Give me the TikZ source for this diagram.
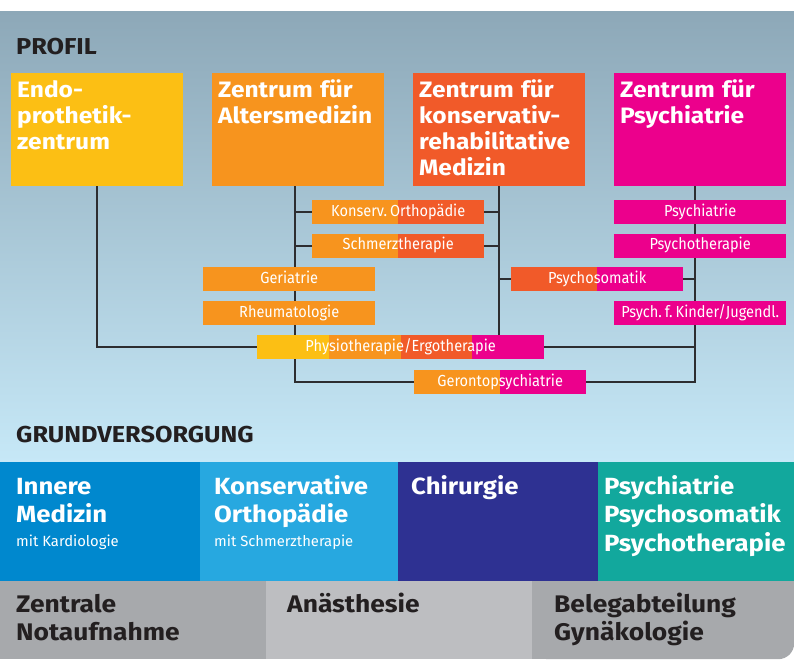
\documentclass[tikz,border=0pt]{standalone}
\usepackage{fontspec}
\setmainfont{Fira Sans}
\newfontfamily\titlefont[FakeStretch=1.1]{Fira Sans}
\newfontfamily\condfont[FakeStretch=0.91, WordSpace=0.8]{Fira Sans}
\usetikzlibrary{positioning}
\usetikzlibrary{calc}
\usetikzlibrary{backgrounds}
\definecolor{cyellow}{RGB}{252,191,20}
\definecolor{corange}{RGB}{247,148,30}
\definecolor{cred}{RGB}{241,90,41}
\definecolor{cmagenta}{RGB}{236,0,140}
\definecolor{cblue}{RGB}{0,136,206}
\definecolor{clightblue}{RGB}{39,168,224}
\definecolor{cnavy}{RGB}{46,49,146}
\definecolor{cteal}{RGB}{18,168,157}
\definecolor{cgray}{RGB}{167,169,172}
\definecolor{clightgray}{RGB}{189,190,193}
\definecolor{ctext}{RGB}{35,31,32}
\definecolor{cline}{RGB}{45,45,48}
\definecolor{cbgtop}{RGB}{141,168,184}
\definecolor{cbgbot}{RGB}{198,232,247}
\tikzset{
    bignode/.style = {anchor=north west, inner xsep=6pt, inner ysep=8pt, text width=160pt, text height=16pt, text depth=81pt, align=left, font=\titlefont\fontsize{22.3}{26}\selectfont\bfseries, text=white},
    smallnode/.style = {anchor=north west, inner sep=0pt, minimum width=172pt, minimum height=24pt, text height=12pt, text depth=4pt, font=\condfont\fontsize{16}{18}\selectfont\frenchspacing, text=white},
    splitnode/.style 2 args = {smallnode, fill=#1, path picture={\fill[#2] (path picture bounding box.south) rectangle (path picture bounding box.north east);}},
    gvnode/.style = {anchor=north west, inner ysep=0pt, text height=32.8pt, text depth=86.7pt, align=left, font=\titlefont\fontsize{23.4}{28.4}\selectfont\bfseries, text=white},
    basenode/.style = {anchor=north west, inner ysep=0pt, text height=31.5pt, text depth=46.5pt, align=left, font=\titlefont\fontsize{24}{28}\selectfont\bfseries, text=ctext},
    headnode/.style = {anchor=base west, inner sep=0pt, font=\titlefont\fontsize{23}{26}\selectfont\bfseries, text=ctext},
    edgen/.style = {-, line width=2pt, cline},
}
\newcommand{\sublabel}[1]{{\normalfont\fontsize{14.8}{16}\selectfont\spaceskip=0pt\xspaceskip=0pt #1}}

\begin{document}
\begin{tikzpicture}[x=1pt, y=-1pt]
\useasboundingbox (0,0) rectangle (794,659);
\node[headnode] at (16,54) (profil) {PROFIL};
\node[bignode, fill=cyellow] at (11,73) (endo) {Endo-\\prothetik-\\zentrum};
\node[bignode, fill=corange] at (212,73) (alters) {Zentrum für\\Altersmedizin};
\node[bignode, fill=cred] at (413,73) (konserv) {Zentrum für\\konservativ-\\rehabilitative\\Medizin};
\node[bignode, fill=cmagenta] at (614,73) (psych) {Zentrum für\\Psychiatrie};
%
\node[splitnode={corange}{cred}] at (312,200) (orthopaedie) {Konserv. Orthopädie};
\node[splitnode={corange}{cred}] at (312,233.5) (schmerz) {Schmerztherapie};
\node[smallnode, fill=corange] at (203,267) (geriatrie) {Geriatrie};
\node[smallnode, fill=corange] at (203,301) (rheuma) {Rheumatologie};
\node[splitnode={cred}{cmagenta}] at (511,267) (psychosom) {Psychosomatik};
\node[smallnode, fill=cmagenta] at (614,200) (psychiatrie) {Psychiatrie};
\node[smallnode, fill=cmagenta] at (614,233.5) (psychother) {Psychotherapie};
\node[smallnode, fill=cmagenta] at (614,301) (kinder) {Psych. f. Kinder/Jugendl.};
\node[smallnode, minimum width=287pt, fill=cyellow, path picture={
    \fill[corange] ($(path picture bounding box.south west)!0.25!(path picture bounding box.south east)$) rectangle (path picture bounding box.north east);
    \fill[cred] (path picture bounding box.south) rectangle (path picture bounding box.north east);
    \fill[cmagenta] ($(path picture bounding box.south west)!0.75!(path picture bounding box.south east)$) rectangle (path picture bounding box.north east);
}] at (257,335) (physio) {Physiotherapie/Ergotherapie};
\node[splitnode={corange}{cmagenta}] at (414,370) (geronto) {Gerontopsychiatrie};
%
\node[headnode] at (16,442) (grund) {GRUNDVERSORGUNG};
\node[gvnode, fill=cblue, inner xsep=16pt, text width=168pt] at (0,461.5) (innere) {Innere\\Medizin\\[-4.4pt]\sublabel{mit Kardiologie}};
\node[gvnode, fill=clightblue, inner xsep=14pt, text width=170pt] at (200,461.5) (orthogv) {Konservative\\Orthopädie\\[-4.4pt]\sublabel{mit Schmerztherapie}};
\node[gvnode, fill=cnavy, inner xsep=13pt, text width=174pt] at (398,461.5) (chirurgie) {Chirurgie};
\node[gvnode, fill=cteal, inner xsep=6pt, text width=184pt] at (598,461.5) (psychgv) {Psychiatrie\\Psychosomatik\\Psychotherapie};
%
\node[basenode, fill=cgray, inner xsep=16pt, text width=234pt] at (0,581) (notaufnahme) {Zentrale\\Notaufnahme};
\node[basenode, fill=clightgray, inner xsep=21pt, text width=224pt] at (266,581) (anaesthesie) {Anästhesie};
\node[basenode, fill=cgray, rounded corners=16pt, inner xsep=22pt, text width=218pt] at (532,581) (gyn) {Belegabteilung\\Gynäkologie};
%
\begin{scope}[on background layer]
\shade[top color=cbgtop, bottom color=cbgbot] (0,11) rectangle (794,461.5);
\fill[cgray] (gyn.north west) rectangle ([xshift=-16pt]gyn.south east);
\fill[cgray] (gyn.north west) rectangle ([yshift=16pt]gyn.south east);
%
\draw[edgen] (endo.south) |- (physio.west);
\draw[edgen] ([xshift=-3pt]alters.south) |- (geronto.west);
\draw[edgen] (orthopaedie.west) -| ([xshift=-3pt]alters.south);
\draw[edgen] (schmerz.west) -| ([xshift=-3pt]alters.south);
\draw[edgen] (konserv.south) -- (konserv.south |- physio.north);
\draw[edgen] (orthopaedie.east) -| (konserv.south);
\draw[edgen] (schmerz.east) -| (konserv.south);
\draw[edgen] (psychosom.west) -| (konserv.south);
\draw[edgen] ([xshift=-5pt]psych.south) |- (geronto.east);
\draw[edgen] (physio.east) -| ([xshift=-5pt]psych.south);
\draw[edgen] (psychosom.east) -| ([xshift=-5pt]psych.south);
\end{scope}
\end{tikzpicture}
\end{document}
